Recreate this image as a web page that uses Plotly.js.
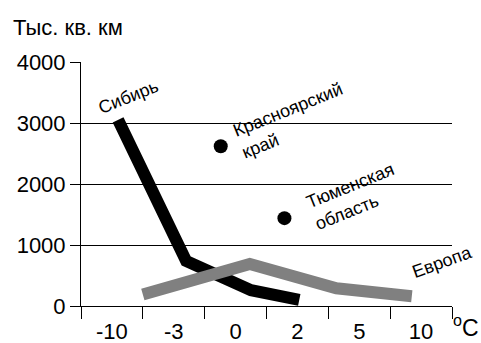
<!DOCTYPE html>
<html>
<head>
<meta charset="utf-8">
<script src="https://cdn.plot.ly/plotly-3.0.1.min.js"></script>
<style>html,body{margin:0;padding:0;background:#fff;}#chart{width:481px;height:343px;}</style>
</head>
<body>
<div id="chart"></div>
<script>
// Temperature categories (x axis)
const categories = ['-10', '-3', '0', '2', '5', '10'];
// Siberia line (positions in category units, values in thousand sq km)
const siberiaX = [0.1, 1.2, 2.25, 3.03];
const siberiaY = [3050, 740, 260, 100];
// Europe line
const europeX = [0.5, 2.23, 3.63, 4.85];
const europeY = [190, 690, 290, 160];
// Regions (points)
const regionNames = ['Красноярский<br>край', 'Тюменская<br>область'];
const regionX = [1.76, 2.79];
const regionY = [2620, 1440];

const FONT = 'Liberation Sans, Arial, sans-serif';
const L = 81, W = 371, B = 306, H = 244;
const px = (x) => (x - L) / W;
const py = (y) => (B - y) / H;

const traces = [
  {x: siberiaX, y: siberiaY, mode: 'lines', line: {color: '#000000', width: 12}, hoverinfo: 'skip'},
  {x: europeX, y: europeY, mode: 'lines', line: {color: '#808080', width: 12}, hoverinfo: 'skip'},
  {x: regionX, y: regionY, mode: 'markers', marker: {color: '#000000', size: 14}, hoverinfo: 'skip'}
];

const ann = (text, x, y, angle, size, extra) => Object.assign({
  text: text, xref: 'paper', yref: 'paper', x: px(x), y: py(y),
  xanchor: 'center', yanchor: 'middle', showarrow: false, textangle: angle,
  font: {family: FONT, size: size, color: '#000000'}
}, extra || {});

const layout = {
  width: 481, height: 343,
  margin: {l: L, r: 481 - L - W, t: B - H, b: 343 - B},
  paper_bgcolor: '#ffffff', plot_bgcolor: '#ffffff',
  showlegend: false,
  font: {family: FONT, size: 18, color: '#000000'},
  xaxis: {
    type: 'linear', range: [-0.5, 5.5],
    tickmode: 'array', tickvals: categories.map((c, i) => i), ticktext: categories,
    ticks: 'outside', ticklen: 0, ticklabelstandoff: 6,
    showgrid: false, zeroline: false,
    showline: true, linecolor: '#000000', linewidth: 1,
    tickfont: {family: FONT, size: 22, color: '#000000'},
    minor: {tickmode: 'array', tickvals: [-0.5, 0.5, 1.5, 2.5, 3.5, 4.5, 5.5], ticks: 'outside', ticklen: 12, tickcolor: '#000000', tickwidth: 1, showgrid: false},
    fixedrange: true
  },
  yaxis: {
    range: [0, 4000], tickmode: 'array', tickvals: [0, 1000, 2000, 3000, 4000],
    ticks: 'outside', ticklen: 10, tickcolor: '#000000',
    showgrid: true, gridcolor: '#000000', gridwidth: 1,
    zeroline: false, showline: true, linecolor: '#000000', linewidth: 1,
    tickfont: {family: FONT, size: 22, color: '#000000'},
    fixedrange: true
  },
  annotations: [
    ann('Тыс. кв. км', 11, 28, 0, 22, {xanchor: 'left'}),
    ann('<sup>o</sup>C', 451, 326, 0, 23, {xanchor: 'left'}),
    ann('Сибирь', 128, 97, -22, 18),
    ann(regionNames[0], 292, 120, -22, 18, {align: 'left'}),
    ann(regionNames[1], 354, 196, -22, 18, {align: 'left'}),
    ann('Европа', 442, 262, -20, 18)
  ]
};

Plotly.newPlot('chart', traces, layout, {displayModeBar: false, staticPlot: true});
</script>
</body>
</html>
